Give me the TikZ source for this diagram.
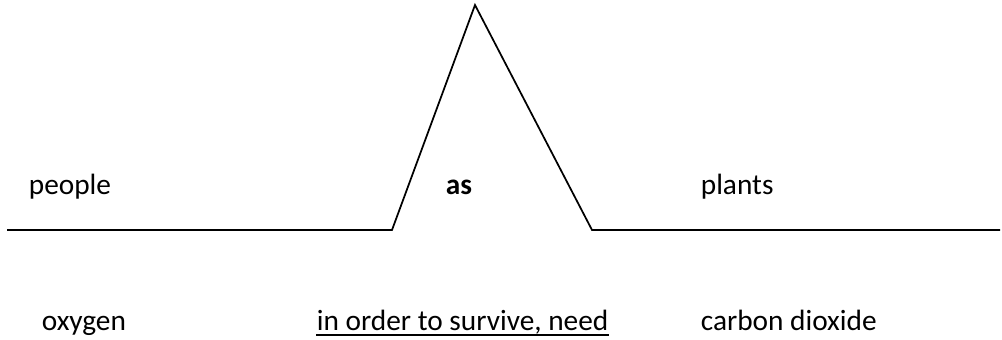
\documentclass[tikz,border=0pt]{standalone}
\usepackage{fontspec}
\setmainfont{Carlito}
\begin{document}
\begin{tikzpicture}[x=0.75pt, y=-0.75pt, line width=1.3pt,
    every node/.style={font=\fontsize{22}{26}\selectfont, inner sep=0pt, anchor=base west}]
  \useasboundingbox (0,0) rectangle (1002,339);
  % Base line with the peak
  \coordinate (left) at (7,230);
  \coordinate (footL) at (392,230);
  \coordinate (apex) at (475,5);
  \coordinate (footR) at (592,230);
  \coordinate (right) at (1000,230);
  \draw[line join=miter] (left) -- (footL) -- (apex) -- (footR) -- (right);
  % Upper words
  \node (people) at (28,194) {people};
  \node (as) at (445,194) {\textbf{as}};
  \node (plants) at (700,194) {plants};
  % Lower words
  \node (oxygen) at (41,330) {oxygen};
  \node (need) at (316,330) {in order to survive, need};
  \node (carbon) at (700,330) {carbon dioxide};
  % Underline of the middle words
  \draw[line width=1.5pt] ([yshift=-4]need.base west) -- ([yshift=-4]need.base east);
\end{tikzpicture}
\end{document}
